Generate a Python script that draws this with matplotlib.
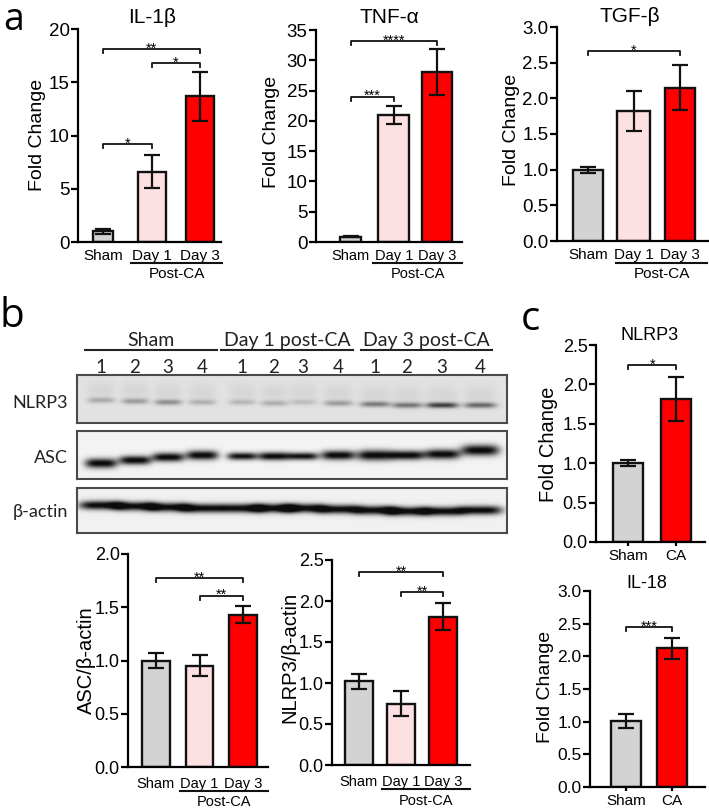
import numpy as np
import matplotlib
matplotlib.use('Agg')
import matplotlib.pyplot as plt
from matplotlib.transforms import blended_transform_factory

plt.rcParams['font.family'] = ['Liberation Sans', 'DejaVu Sans']

# ---------------- data ----------------
groups3 = ['Sham', 'Day 1', 'Day 3']
groups2 = ['Sham', 'CA']

il1b_mean = [1.0, 6.6, 13.7]
il1b_sem = [0.25, 1.55, 2.3]
il1b_sig = [(0, 1, 9.2, '*'), (0, 2, 18.1, '**'), (1, 2, 16.8, '*')]

tnf_mean = [0.9, 20.9, 28.0]
tnf_sem = [0.15, 1.5, 3.8]
tnf_sig = [(0, 1, 24.0, '***'), (0, 2, 33.2, '****')]

tgf_mean = [1.0, 1.82, 2.15]
tgf_sem = [0.04, 0.28, 0.32]
tgf_sig = [(0, 2, 2.66, '*')]

asc_mean = [1.0, 0.95, 1.43]
asc_sem = [0.07, 0.10, 0.08]
asc_sig = [(0, 2, 1.77, '**'), (1, 2, 1.61, '**')]

nlrp3r_mean = [1.02, 0.75, 1.81]
nlrp3r_sem = [0.09, 0.15, 0.16]
nlrp3r_sig = [(0, 2, 2.35, '**'), (1, 2, 2.11, '**')]

nlrp3c_mean = [1.0, 1.82]
nlrp3c_sem = [0.04, 0.28]
nlrp3c_sig = [(0, 1, 2.24, '*')]

il18_mean = [1.01, 2.12]
il18_sem = [0.10, 0.16]
il18_sig = [(0, 1, 2.45, '***')]

# western blot band densities (0 = none, 1 = black) for 12 lanes
blot_groups = ['Sham', 'Day 1 post-CA', 'Day 3 post-CA']
lane_numbers = ['1', '2', '3', '4'] * 3
nlrp3_band = [0.22, 0.28, 0.33, 0.20, 0.17, 0.20, 0.14, 0.28, 0.42, 0.45, 0.68, 0.50]
asc_band = [1.0, 1.0, 1.0, 1.0, 0.95, 1.0, 0.95, 1.0, 1.0, 1.0, 1.0, 1.0]
actin_band = [1.0] * 12

# ---------------- layout helpers ----------------
W, H = 709, 809
fig = plt.figure(figsize=(W / 100, H / 100), dpi=100)
ov = fig.add_axes([0, 0, 1, 1])
ov.set_xlim(0, W)
ov.set_ylim(H, 0)
ov.axis('off')


def rect(x0, y0, x1, y1):
    return [x0 / W, 1 - y1 / H, (x1 - x0) / W, (y1 - y0) / H]


SHAM_C = '#d3d3d3'
DAY1_C = '#fde0e1'
DAY3_C = '#ff0000'
EDGE = '#111111'


def barpanel(px, means, sems, labels, colors, widths, ylim, yticks, ytlabels,
             xlim, sig, tick_fs, xl_fs, xpad, postca=None, xticks_marks=False):
    x0, y0, x1, y1 = px
    ax = fig.add_axes(rect(*px))
    pos = np.arange(len(means))
    ax.bar(pos, means, width=widths, color=colors, edgecolor=EDGE,
           linewidth=1.7, zorder=2)
    ax.errorbar(pos, means, yerr=sems, fmt='none', ecolor=EDGE,
                elinewidth=1.6, capsize=6, capthick=1.6, zorder=3)
    ax.set_xlim(*xlim)
    ax.set_ylim(*ylim)
    ax.set_yticks(yticks)
    ax.set_yticklabels(ytlabels, fontsize=tick_fs)
    ax.set_xticks(pos)
    ax.set_xticklabels(labels, fontsize=xl_fs)
    for s in ['top', 'right']:
        ax.spines[s].set_visible(False)
    for s in ['left', 'bottom']:
        ax.spines[s].set_linewidth(1.6)
    ax.tick_params(axis='y', direction='out', length=5, width=1.6, pad=1)
    ax.tick_params(axis='x', length=(3 if xticks_marks else 0), width=1.6,
                   pad=xpad)
    ax.patch.set_alpha(0)
    # brackets
    dpp = (ylim[1] - ylim[0]) / (y1 - y0)
    for a, b, yv, st in sig:
        h = 4 * dpp
        ax.plot([a, a, b, b], [yv - h, yv, yv, yv - h], color=EDGE, lw=1.3,
                clip_on=False, zorder=4)
        ax.annotate(st, xy=((a + b) / 2, yv), xytext=(0, -2.5),
                    textcoords='offset points', ha='center', va='baseline',
                    fontsize=10.5)
    if postca is not None:
        xa, xb, yline, ytext = postca
        tr = blended_transform_factory(ax.transData, ax.transAxes)
        fl = (y1 - yline) / (y1 - y0)
        ft = (y1 - ytext) / (y1 - y0)
        ax.plot([xa, xb], [fl, fl], color=EDGE, lw=1.5, transform=tr,
                clip_on=False)
        ax.text((xa + xb) / 2, ft, 'Post-CA', transform=tr, ha='center',
                va='center', fontsize=xl_fs)
    return ax


cols3 = [SHAM_C, DAY1_C, DAY3_C]
cols2 = [SHAM_C, DAY3_C]

# ---------------- panel a ----------------
barpanel((78, 29, 221, 242), il1b_mean, il1b_sem, groups3, cols3,
         [0.42, 0.58, 0.58], (0, 20), [0, 5, 10, 15, 20],
         ['0', '5', '10', '15', '20'], (-0.52, 2.43), il1b_sig, 13.5, 11, 5,
         postca=(0.58, 2.45, 263, 274))
ov.text(38, 135, 'Fold Change', rotation=90, ha='center', va='center', fontsize=14)
ov.text(152, 17, 'IL-1β', ha='center', va='center', fontsize=15)

barpanel((316, 30, 462, 242), tnf_mean, tnf_sem, groups3, cols3,
         [0.49, 0.72, 0.70], (0, 35), [0, 5, 10, 15, 20, 25, 30, 35],
         ['0', '5', '10', '15', '20', '25', '30', '35'], (-0.81, 2.58),
         tnf_sig, 13.5, 10.5, 5, postca=(0.52, 2.58, 263, 274))
ov.text(271, 132, 'Fold Change', rotation=90, ha='center', va='center', fontsize=14)
ov.text(389, 17, 'TNF-α', ha='center', va='center', fontsize=15)

barpanel((557, 27, 708, 241), tgf_mean, tgf_sem, groups3, cols3,
         [0.65, 0.72, 0.65], (0, 3), [0, 0.5, 1, 1.5, 2, 2.5, 3],
         ['0.0', '0.5', '1.0', '1.5', '2.0', '2.5', '3.0'], (-0.67, 2.61),
         tgf_sig, 13.5, 11, 5, postca=(0.62, 2.58, 263, 274))
ov.text(511, 130, 'Fold Change', rotation=90, ha='center', va='center', fontsize=14)
ov.text(630, 16, 'TGF-β', ha='center', va='center', fontsize=15)

# ---------------- panel b: blot ----------------
lane_px = [101, 135, 168, 202, 242, 274, 303, 338, 375, 407, 442, 480]
BX0, BX1 = 77, 507


def strip(y0, y1, dens, ycent, sig_y, widths, bg, smear=0.0):
    ax = fig.add_axes(rect(BX0, y0, BX1, y1))
    h, w = y1 - y0, BX1 - BX0
    yy, xx = np.mgrid[0:h * 2, 0:w * 2] / 2.0
    img = np.full(yy.shape, bg)
    for xc, d, yc, sy, bw in zip(lane_px, dens, ycent, sig_y, widths):
        hprof = np.exp(-np.abs((xx - (xc - BX0)) / (bw / 2.0)) ** 4)
        img += d * np.exp(-((yy - (yc - y0)) / sy) ** 2) * hprof
        if smear:
            img += smear * np.exp(-((yy - (yc - y0 - 10)) / 9.0) ** 2) * hprof
    img = np.clip(img, 0, 1)
    ax.imshow(img, cmap='gray_r', vmin=0, vmax=1.05, extent=(0, w, h, 0),
              aspect='auto', interpolation='bilinear')
    ax.set_xticks([])
    ax.set_yticks([])
    for s in ax.spines.values():
        s.set_color('#4a4a4a')
        s.set_linewidth(1.5)
    return ax


strip(375, 423, nlrp3_band,
      [400, 401, 402, 402, 402, 403, 402, 403, 404, 405, 405, 405],
      [2.8] * 12, [27, 27, 27, 27, 27, 27, 27, 29, 30, 30, 32, 32], 0.12,
      smear=0.05)
strip(431, 479, asc_band,
      [463, 460, 457, 455, 456, 456, 456, 455, 455, 455, 454, 450],
      [4.8, 4.4, 4.4, 4.6, 3.7, 4.0, 3.7, 4.6, 5.2, 4.6, 4.9, 5.4],
      [32, 32, 32, 32, 30, 32, 30, 34, 36, 34, 36, 38], 0.05)
strip(488, 533, actin_band,
      [505, 506, 507, 508, 508, 508, 508, 509, 510, 511, 511, 510],
      [4.4] * 12, [44] * 12, 0.06)

BF = ['Lato', 'DejaVu Sans']
for (xa, xb), g in zip([(85, 217), (221, 353), (361, 492)], blot_groups):
    ov.plot([xa, xb], [350, 350], color='#222222', lw=1.5)
    ov.text((xa + xb) / 2, 340, g, ha='center', va='center', fontsize=14,
            family=BF, color='#222222')
for x, n in zip(lane_px, lane_numbers):
    ov.text(x, 367, n, ha='center', va='center', fontsize=13.5, family=BF,
            color='#222222')
ov.text(68, 403, 'NLRP3', ha='right', va='center', fontsize=13, family=BF, color='#222222')
ov.text(68, 458, 'ASC', ha='right', va='center', fontsize=13, family=BF, color='#222222')
ov.text(68, 512, 'β-actin', ha='right', va='center', fontsize=13, family=BF, color='#222222')

# ---------------- panel b: quantification ----------------
barpanel((128, 554, 268, 767), asc_mean, asc_sem, groups3, cols3,
         [0.64, 0.64, 0.64], (0, 2), [0, 0.5, 1, 1.5, 2],
         ['0.0', '0.5', '1.0', '1.5', '2.0'], (-0.64, 2.57), asc_sig, 13,
         10.5, 7, postca=(0.55, 2.57, 791, 802))
ov.text(86, 660, 'ASC/β-actin', rotation=90, ha='center', va='center', fontsize=14.5)

barpanel((332, 560, 470, 765), nlrp3r_mean, nlrp3r_sem, groups3, cols3,
         [0.66, 0.66, 0.66], (0, 2.5), [0, 0.5, 1, 1.5, 2, 2.5],
         ['0.0', '0.5', '1.0', '1.5', '2.0', '2.5'], (-0.64, 2.64),
         nlrp3r_sig, 13, 10.5, 7, postca=(0.55, 2.64, 789, 801))
ov.text(290, 657, 'NLRP3/β-actin', rotation=90, ha='center', va='center', fontsize=14.5)

# ---------------- panel c ----------------
barpanel((596, 345, 705, 542), nlrp3c_mean, nlrp3c_sem, groups2, cols2,
         [0.62, 0.62], (0, 2.5), [0, 0.5, 1, 1.5, 2, 2.5],
         ['0.0', '0.5', '1.0', '1.5', '2.0', '2.5'], (-0.67, 1.6),
         nlrp3c_sig, 13, 11, 2, xticks_marks=True)
ov.text(548, 444, 'Fold Change', rotation=90, ha='center', va='center', fontsize=14.5)
ov.text(650, 335, 'NLRP3', ha='center', va='center', fontsize=13)

barpanel((590, 591, 705, 787), il18_mean, il18_sem, groups2, cols2,
         [0.65, 0.65], (0, 3), [0, 0.5, 1, 1.5, 2, 2.5, 3],
         ['0.0', '0.5', '1.0', '1.5', '2.0', '2.5', '3.0'], (-0.78, 1.72),
         il18_sig, 12.5, 11, 2, xticks_marks=True)
ov.text(545, 687, 'Fold Change', rotation=90, ha='center', va='center', fontsize=14)
ov.text(647, 583, 'IL-18', ha='center', va='center', fontsize=13)

# panel letters
LF = ['Open Sans', 'DejaVu Sans']
ov.text(14, 30, 'a', ha='center', va='baseline', fontsize=27, family=LF)
ov.text(12, 327, 'b', ha='center', va='baseline', fontsize=29, family=LF)
ov.text(530, 330, 'c', ha='center', va='baseline', fontsize=29, family=LF)

fig.savefig('out.png', dpi=100)
